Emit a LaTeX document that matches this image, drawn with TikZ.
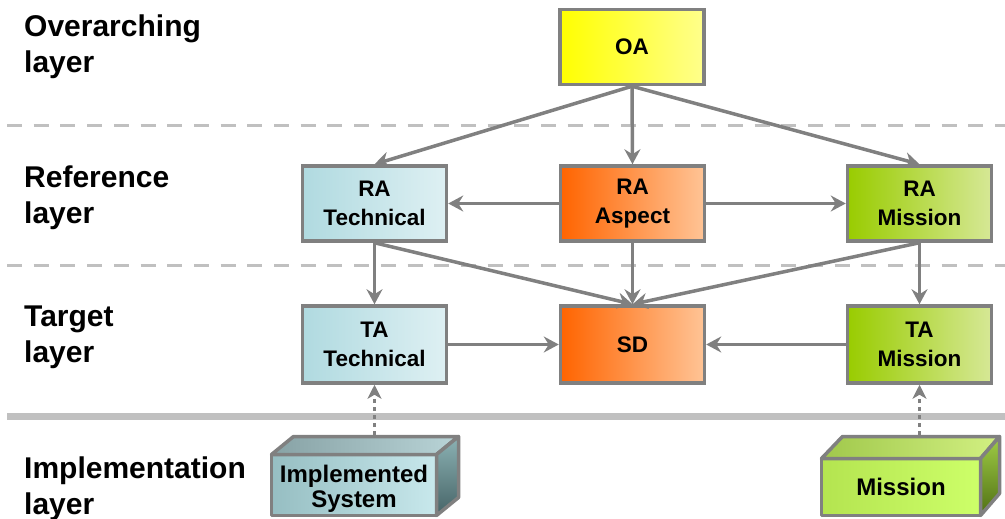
\documentclass[tikz,border=0pt]{standalone}
\usepackage{fontspec}
\setmainfont{Liberation Sans}
\usetikzlibrary{arrows.meta,calc}
\definecolor{edgegray}{RGB}{128,128,128}
\definecolor{sepgray}{RGB}{192,192,192}
\definecolor{oaL}{RGB}{255,255,0}
\definecolor{oaR}{RGB}{255,255,140}
\definecolor{techL}{RGB}{176,218,224}
\definecolor{techR}{RGB}{222,240,243}
\definecolor{aspL}{RGB}{255,100,0}
\definecolor{aspR}{RGB}{255,196,150}
\definecolor{misL}{RGB}{153,204,0}
\definecolor{misR}{RGB}{214,232,150}
\definecolor{implFL}{RGB}{150,190,194}
\definecolor{implFR}{RGB}{200,232,236}
\definecolor{implTL}{RGB}{135,162,165}
\definecolor{implTR}{RGB}{185,212,215}
\definecolor{implST}{RGB}{140,178,181}
\definecolor{implSB}{RGB}{70,100,102}
\definecolor{misFL}{RGB}{180,228,80}
\definecolor{misFR}{RGB}{205,255,105}
\definecolor{misTL}{RGB}{160,200,75}
\definecolor{misTR}{RGB}{210,240,130}
\definecolor{misST}{RGB}{160,205,70}
\definecolor{misSB}{RGB}{80,112,20}
\begin{document}
\begin{tikzpicture}[x=1pt,y=-1pt,
  box/.style={draw=edgegray, line width=3.5pt, minimum width=144pt, minimum height=75pt,
    inner sep=0pt, align=center, font=\bfseries\fontsize{22.5}{28.5}\selectfont},
  oabox/.style={box, left color=oaL, right color=oaR},
  techbox/.style={box, left color=techL, right color=techR},
  aspbox/.style={box, left color=aspL, right color=aspR},
  misbox/.style={box, left color=misL, right color=misR},
  layerlabel/.style={anchor=north west, inner sep=0pt, align=left,
    font=\bfseries\fontsize{30}{35.5}\selectfont},
  arr/.style={draw=edgegray, line width=3.5pt, -{Stealth[length=15pt, width=16pt, inset=5pt]}},
  dotarr/.style={draw=edgegray, line width=3.5pt, dash pattern=on 4pt off 4pt,
    -{Stealth[length=14pt, width=14pt, inset=4pt]}},
  sepdash/.style={draw=sepgray, line width=3.5pt, dash pattern=on 15pt off 11.7pt},
  sepsolid/.style={draw=sepgray, line width=7pt},
  face/.style={draw=edgegray, line width=3.5pt, line join=round},
  frontface/.style={face, outer sep=0pt, inner sep=0pt, align=center,
    font=\bfseries\fontsize{24}{24}\selectfont}
]
\clip (0,0) rectangle (1005,519);

% separators
\draw[sepdash] (7,125.7) -- (1005,125.7);
\draw[sepdash] (7,265.5) -- (1005,265.5);
\draw[sepsolid] (7,416) -- (1005,416);

% layer labels
\node[layerlabel] (l1) at (24,15) {Overarching\\layer};
\node[layerlabel] (l2) at (24,166) {Reference\\layer};
\node[layerlabel] (l3) at (24,306) {Target\\layer};
\node[layerlabel] (l4) at (24,457) {Implementation\\layer};

% main boxes
\node[oabox] (oa) at (632,47) {OA};
\node[techbox] (ratech) at (374.5,203.5) {RA\\Technical};
\node[aspbox] (raasp) at (632.5,203.5) {RA\\Aspect};
\node[misbox] (ramis) at (919.5,203.5) {RA\\Mission};
\node[techbox, minimum height=77pt] (tatech) at (374.5,344.5) {TA\\Technical};
\node[aspbox, minimum height=77pt] (sd) at (632.5,344.5) {SD};
\node[misbox, minimum height=77pt] (tamis) at (919.5,344.5) {TA\\Mission};

% arrows
\draw[arr] (oa.south) -- (ratech.north);
\draw[arr] (oa.south) -- (raasp.north);
\draw[arr] (oa.south) -- (ramis.north);
\draw[arr] (raasp.west) -- (ratech.east);
\draw[arr] (raasp.east) -- (ramis.west);
\draw[arr] (ratech.south) -- (tatech.north);
\draw[arr] (ratech.south) -- (sd.north);
\draw[arr] (raasp.south) -- (sd.north);
\draw[arr] (ramis.south) -- (sd.north);
\draw[arr] (ramis.south) -- (tamis.north);
\draw[arr] (tatech.east) -- (sd.west);
\draw[arr] (tamis.west) -- (sd.east);

% implementation boxes (3D)
\coordinate (implback) at (374.5,435);
\coordinate (misback) at (919.5,435);
\draw[dotarr] (implback) -- (tatech.south);
\draw[dotarr] (misback) -- (tamis.south);

\node[frontface, minimum width=165pt, minimum height=61pt,
  left color=implFL, right color=implFR] (impl) at (354,485)
  {\rule{0pt}{24pt}Implemented\\[1pt]System};
\filldraw[face, left color=implTL, right color=implTR]
  (impl.north west) -- ++(22,-18) -- ($(impl.north east)+(22,-18)$) -- (impl.north east) -- cycle;
\filldraw[face, top color=implST, bottom color=implSB]
  (impl.north east) -- ++(22,-18) -- ($(impl.south east)+(22,-18)$) -- (impl.south east) -- cycle;

\node[frontface, minimum width=159pt, minimum height=57pt,
  left color=misFL, right color=misFR] (mis) at (901,487) {Mission};
\filldraw[face, left color=misTL, right color=misTR]
  (mis.north west) -- ++(21,-22) -- ($(mis.north east)+(19,-22)$) -- (mis.north east) -- cycle;
\filldraw[face, top color=misST, bottom color=misSB]
  (mis.north east) -- ++(19,-22) -- ($(mis.south east)+(19,-22)$) -- (mis.south east) -- cycle;
\end{tikzpicture}
\end{document}
